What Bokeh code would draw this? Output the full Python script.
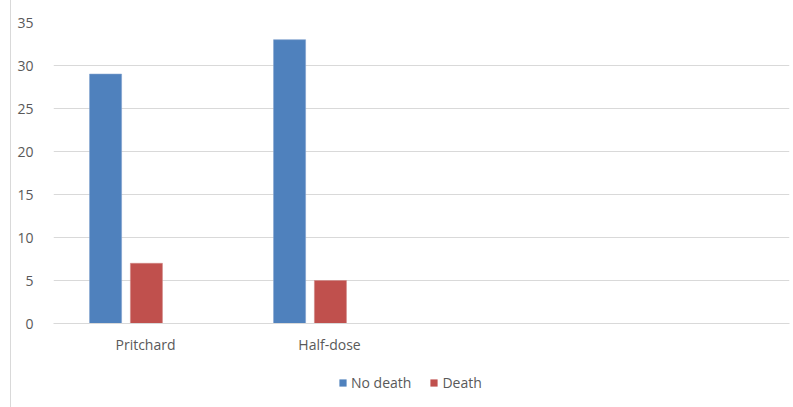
from bokeh.plotting import figure
from bokeh.models import FactorRange, ColumnDataSource, Legend, LegendItem
from bokeh.layouts import column
from bokeh.transform import dodge
from bokeh.embed import file_html
from bokeh.resources import INLINE

categories = ["Pritchard", "Half-dose", " ", "  "]
no_death = [29, 33, 0, 0]
death = [7, 5, 0, 0]
y_ticks = [0, 5, 10, 15, 20, 25, 30, 35]
series_names = ["No death", "Death"]
series_colors = ["#4F81BD", "#C0504D"]

src = ColumnDataSource(dict(cat=categories, no_death=no_death, death=death))

FONT = "Open Sans"
TXT = "#595959"

p = figure(x_range=FactorRange(*categories, range_padding=0), y_range=(0, 35),
           width=782, height=360, output_backend="svg", toolbar_location=None,
           min_border_left=42, min_border_right=4, min_border_top=22, min_border_bottom=37)
p.outline_line_color = None
p.x_range.factor_padding = 0

p.vbar(x=dodge("cat", -0.217, range=p.x_range), top="no_death", width=0.174, source=src,
       fill_color=series_colors[0], line_color="#7da0cc", line_width=0.6)
p.vbar(x=dodge("cat", 0.005, range=p.x_range), top="death", width=0.174, source=src,
       fill_color=series_colors[1], line_color="#d08583", line_width=0.6)

p.yaxis.ticker = y_ticks
p.yaxis.axis_line_color = None
p.yaxis.major_tick_line_color = None
p.yaxis.minor_tick_line_color = None
p.yaxis.major_label_text_font = FONT
p.yaxis.major_label_text_font_size = "14px"
p.yaxis.major_label_text_color = TXT
p.yaxis.major_label_standoff = 14

p.xaxis.axis_line_color = "#d9d9d9"
p.xaxis.major_tick_line_color = None
p.xaxis.minor_tick_line_color = None
p.xaxis.major_label_text_font = FONT
p.xaxis.major_label_text_font_size = "14px"
p.xaxis.major_label_text_color = TXT
p.xaxis.major_label_standoff = 5

p.xgrid.grid_line_color = None
p.ygrid.grid_line_color = "#d9d9d9"

# legend strip (swatch renderers are zero-height, so invisible)
p2 = figure(width=782, height=47, x_range=(0, 1), y_range=(0, 1), output_backend="svg",
            toolbar_location=None, x_axis_type=None, y_axis_type=None,
            min_border=0, min_border_left=0, min_border_right=0, min_border_top=0, min_border_bottom=0)
p2.outline_line_color = None
p2.xgrid.grid_line_color = None
p2.ygrid.grid_line_color = None
items = []
for name, col in zip(series_names, series_colors):
    rr = p2.vbar(x=[0.5], top=[0], bottom=[0], width=0.01, fill_color=col, line_color=None)
    items.append(LegendItem(label=name, renderers=[rr]))
legend = Legend(items=items, orientation="horizontal", location=(285, 15),
                label_text_font=FONT, label_text_font_size="14px", label_text_color=TXT,
                glyph_width=9, glyph_height=9, label_standoff=4, spacing=18,
                border_line_color=None, background_fill_alpha=0, padding=2, margin=0)
p2.add_layout(legend, "center")

layout = column(p, p2, spacing=0)
layout.styles = {"margin-left": "10px", "border-left": "1px solid #d9d9d9"}

open("out.html", "w").write(file_html(layout, INLINE))
